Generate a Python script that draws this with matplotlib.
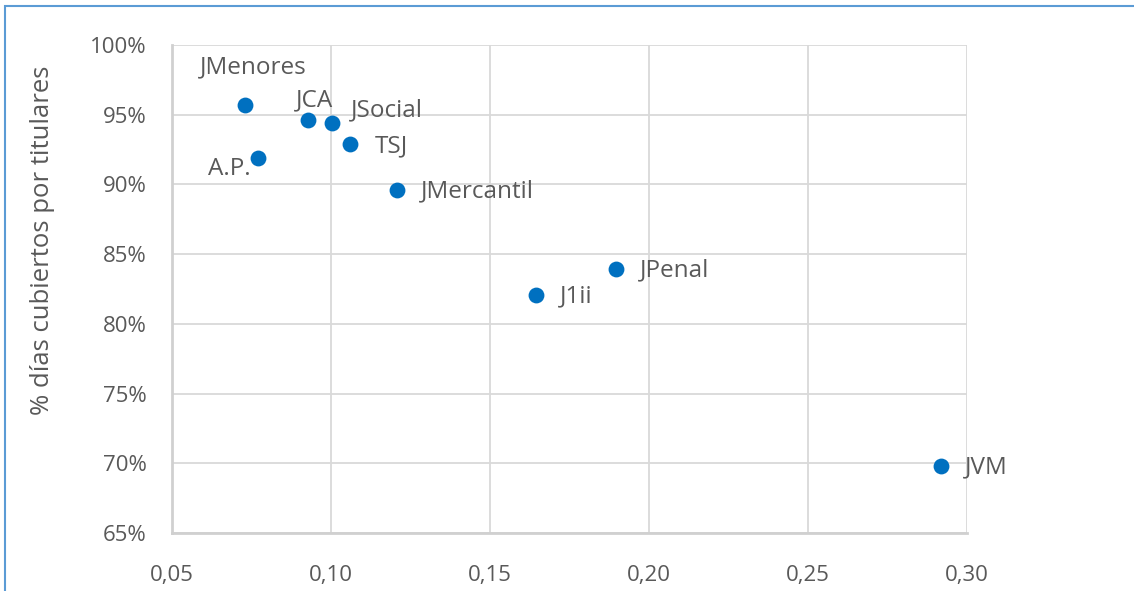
import matplotlib
matplotlib.use("Agg")
import matplotlib.pyplot as plt
from matplotlib.patches import Rectangle
from matplotlib.ticker import FuncFormatter, MultipleLocator

plt.rcParams['font.family'] = ['Open Sans', 'DejaVu Sans']

labels = ["JMenores", "A.P.", "JCA", "JSocial", "TSJ", "JMercantil", "J1ii", "JPenal", "JVM"]
x_vals = [0.0730, 0.0770, 0.0928, 0.1003, 0.1060, 0.1208, 0.1645, 0.1896, 0.2918]
y_vals = [0.957, 0.919, 0.946, 0.944, 0.929, 0.896, 0.821, 0.839, 0.698]

# label offsets (points) and alignment
offsets = {
    "JMenores": ((6, 27), "center"),
    "A.P.": ((-5, -8), "right"),
    "JCA": ((5, 14), "center"),
    "JSocial": ((14, 9), "left"),
    "TSJ": ((18, -1.5), "left"),
    "JMercantil": ((17, -1), "left"),
    "J1ii": ((17, -1), "left"),
    "JPenal": ((17, -1), "left"),
    "JVM": ((17, -1), "left"),
}

W, H = 1134, 591
fig = plt.figure(figsize=(W / 100, H / 100), dpi=100)
ax = fig.add_axes([172 / W, 1 - 533 / H, (967 - 172) / W, (533 - 45) / H])

text_color = "#595959"
grid_color = "#D9D9D9"

ax.scatter(x_vals, y_vals, s=130, color="#0070C0", zorder=3, linewidths=0)
for lab, x, y in zip(labels, x_vals, y_vals):
    (dx, dy), ha = offsets[lab]
    ax.annotate(lab, (x, y), xytext=(dx, dy), textcoords="offset points",
                ha=ha, va="center", fontsize=17.5, color=text_color)

ax.set_xlim(0.05, 0.30)
ax.set_ylim(0.65, 1.00)
ax.xaxis.set_major_locator(MultipleLocator(0.05))
ax.yaxis.set_major_locator(MultipleLocator(0.05))
ax.xaxis.set_major_formatter(FuncFormatter(lambda v, p: f"{v:.2f}".replace(".", ",")))
ax.yaxis.set_major_formatter(FuncFormatter(lambda v, p: f"{v*100:.0f}%"))

ax.grid(True, color=grid_color, linewidth=1.3, zorder=0)
ax.set_axisbelow(True)
for s in ["top", "right"]:
    ax.spines[s].set_visible(False)
for s in ["left", "bottom"]:
    ax.spines[s].set_color("#D0D0D0")
    ax.spines[s].set_linewidth(2)
ax.tick_params(axis="both", length=0, labelsize=16, labelcolor=text_color)
ax.tick_params(axis="x", pad=23)
ax.tick_params(axis="y", pad=18)

ax.set_ylabel("% días cubiertos por titulares", fontsize=18.5, color=text_color)
ax.yaxis.set_label_coords(-0.163, 0.60)
ax.yaxis.label.set_verticalalignment("center")

# figure border (cut off at right and bottom)
fig.patches.append(Rectangle((5 / W, -0.05), 1.1, 1 - 6 / H + 0.05, transform=fig.transFigure,
                             fill=False, edgecolor="#5B9BD5", linewidth=1.5))

fig.savefig("out.png", dpi=100, facecolor="white")
